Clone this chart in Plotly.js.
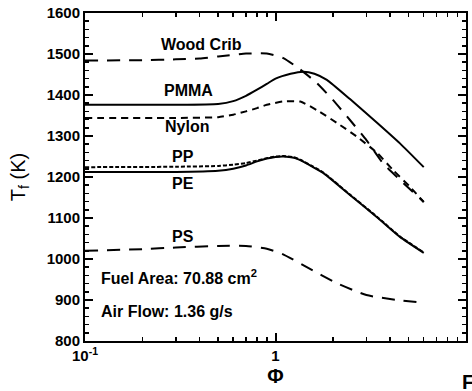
<!DOCTYPE html>
<html>
<head>
<meta charset="utf-8">
<script src="https://cdn.plot.ly/plotly-3.0.1.min.js"></script>
<style>html,body{margin:0;padding:0;background:#fff;}#chart{width:472px;height:391px;}</style>
</head>
<body>
<div id="chart"></div>
<script>
// Data (phi = equivalence ratio, Tf in K)
const woodPhi = [0.1, 0.2, 0.3, 0.4, 0.5, 0.7, 0.9, 1.1, 1.35, 1.65, 2.0, 2.46, 3.0, 3.66, 4.5, 6.0];
const woodT   = [1484, 1485, 1487, 1489, 1494, 1501, 1501, 1490, 1462, 1429, 1388, 1339, 1290, 1234, 1193, 1139];

const pmmaPhi = [0.1, 0.3, 0.5, 0.6, 0.7, 0.8, 0.9, 1.0, 1.2, 1.4, 1.6, 1.86, 2.46, 3.4, 4.5, 6.0];
const pmmaT   = [1376, 1376, 1378, 1385, 1398, 1413, 1427, 1440, 1452, 1457, 1452, 1437, 1390, 1333, 1282, 1224];

const nylonPhi = [0.1, 0.3, 0.5, 0.6, 0.7, 0.8, 0.9, 1.09, 1.35, 1.65, 2.1, 2.68, 3.41, 4.14, 5.08, 6.0];
const nylonT   = [1344, 1344, 1346, 1352, 1360, 1368, 1376, 1384, 1384, 1363, 1332, 1298, 1259, 1217, 1176, 1139];

const ppPhi = [0.1, 0.3, 0.5, 0.6, 0.7, 0.8, 0.9, 1.0, 1.1, 1.25, 1.35, 1.55, 1.78, 2.46, 3.41, 4.5, 6.0];
const ppT   = [1224, 1225, 1227, 1230, 1234, 1240, 1246, 1250, 1251, 1248, 1242, 1227, 1211, 1157, 1103, 1055, 1016];

const pePhi = [0.1, 0.3, 0.5, 0.6, 0.7, 0.8, 0.9, 1.0, 1.1, 1.25, 1.35, 1.55, 1.78, 2.46, 3.41, 4.5, 6.0];
const peT   = [1212, 1212, 1215, 1220, 1228, 1238, 1245, 1249, 1250, 1247, 1241, 1226, 1210, 1156, 1102, 1054, 1015];

const psPhi = [0.1, 0.2, 0.3, 0.5, 0.7, 0.9, 1.09, 1.46, 2.1, 3.0, 4.35, 6.0];
const psT   = [1020, 1024, 1028, 1032, 1032, 1025, 1012, 980, 941, 912, 900, 893];

const seriesNames = ["Wood Crib", "PMMA", "Nylon", "PP", "PE", "PS"];
const xTickVals = [0.1, 1, 10];
const xTickText = ["<b>10<sup>-1</sup></b>", "<b>1</b>", "<b>10</b>"];
const xMinorVals = [0.2,0.3,0.4,0.5,0.6,0.7,0.8,0.9,2,3,4,5,6,7,8,9];
const yTickVals = [800, 900, 1000, 1100, 1200, 1300, 1400, 1500, 1600];
const notes = ["Fuel Area: 70.88 cm<sup>2</sup>", "Air Flow: 1.36 g/s"];

const FONT = "Liberation Sans, Arial, sans-serif";
function line(x, y, name, dash) {
  return {x: x, y: y, name: name, type: "scatter", mode: "lines",
          line: {color: "#000", width: 2, dash: dash, shape: "spline", smoothing: 0.5},
          showlegend: false, hoverinfo: "skip"};
}
const traces = [
  line(woodPhi, woodT, seriesNames[0], "13px,9px"),
  line(pmmaPhi, pmmaT, seriesNames[1], "solid"),
  line(nylonPhi, nylonT, seriesNames[2], "7px,5px"),
  line(ppPhi, ppT, seriesNames[3], "4px,2px"),
  line(pePhi, peT, seriesNames[4], "solid"),
  line(psPhi, psT, seriesNames[5], "13px,9px")
];

function lab(text, xl, y, size, anchor) {
  return {text: "<b>" + text + "</b>", x: xl, y: y, xref: "x", yref: "y", showarrow: false,
          xanchor: anchor || "center", yanchor: "middle", font: {family: FONT, size: size, color: "#000"}};
}
const annotations = [
  lab(seriesNames[0], -0.391, 1522, 16),
  lab(seriesNames[1], -0.459, 1410, 16),
  lab(seriesNames[2], -0.462, 1322, 16),
  lab(seriesNames[3], -0.488, 1249, 16),
  lab(seriesNames[4], -0.488, 1185, 16),
  lab(seriesNames[5], -0.483, 1056, 16),
  lab(notes[0], -0.925, 956, 16, "left"),
  lab(notes[1], -0.925, 871, 16, "left"),
  // partial figure caption at bottom-right (cut off in the reference)
  {text: "<b>F</b>", x: 0.985, y: -0.125, xref: "paper", yref: "paper", showarrow: false,
   xanchor: "left", yanchor: "middle", font: {family: FONT, size: 20, color: "#000"}}
];

const layout = {
  width: 472, height: 391,
  margin: {l: 85, r: 6, t: 13, b: 50},
  paper_bgcolor: "#fff", plot_bgcolor: "#fff",
  font: {family: FONT, color: "#000"},
  showlegend: false,
  xaxis: {
    type: "log", range: [-1, 1],
    tickmode: "array", tickvals: xTickVals, ticktext: xTickText,
    ticks: "inside", ticklen: 8, tickwidth: 2, tickcolor: "#000",
    minor: {tickmode: "array", tickvals: xMinorVals, ticks: "inside", ticklen: 4, tickwidth: 1.5, tickcolor: "#000", showgrid: false},
    showline: true, linewidth: 2, linecolor: "#000", mirror: "allticks",
    showgrid: false, zeroline: false,
    tickfont: {family: FONT, size: 15, color: "#000"},
    title: {text: "<b>Φ</b>", font: {family: FONT, size: 20, color: "#000"}, standoff: 6}
  },
  yaxis: {
    range: [800, 1600],
    tickmode: "array", tickvals: yTickVals, ticktext: yTickVals.map(v => "<b>" + v + "</b>"),
    ticks: "inside", ticklen: 8, tickwidth: 2, tickcolor: "#000",
    minor: {dtick: 20, tick0: 800, ticks: "inside", ticklen: 4, tickwidth: 1.5, tickcolor: "#000", showgrid: false},
    showline: true, linewidth: 2, linecolor: "#000", mirror: "allticks",
    showgrid: false, zeroline: false,
    tickfont: {family: FONT, size: 15, color: "#000"},
    title: {text: "T<sub>f</sub> (K)", font: {family: FONT, size: 20, color: "#000"}, standoff: 16}
  },
  annotations: annotations
};

Plotly.newPlot("chart", traces, layout, {displayModeBar: false, staticPlot: true});
</script>
</body>
</html>
